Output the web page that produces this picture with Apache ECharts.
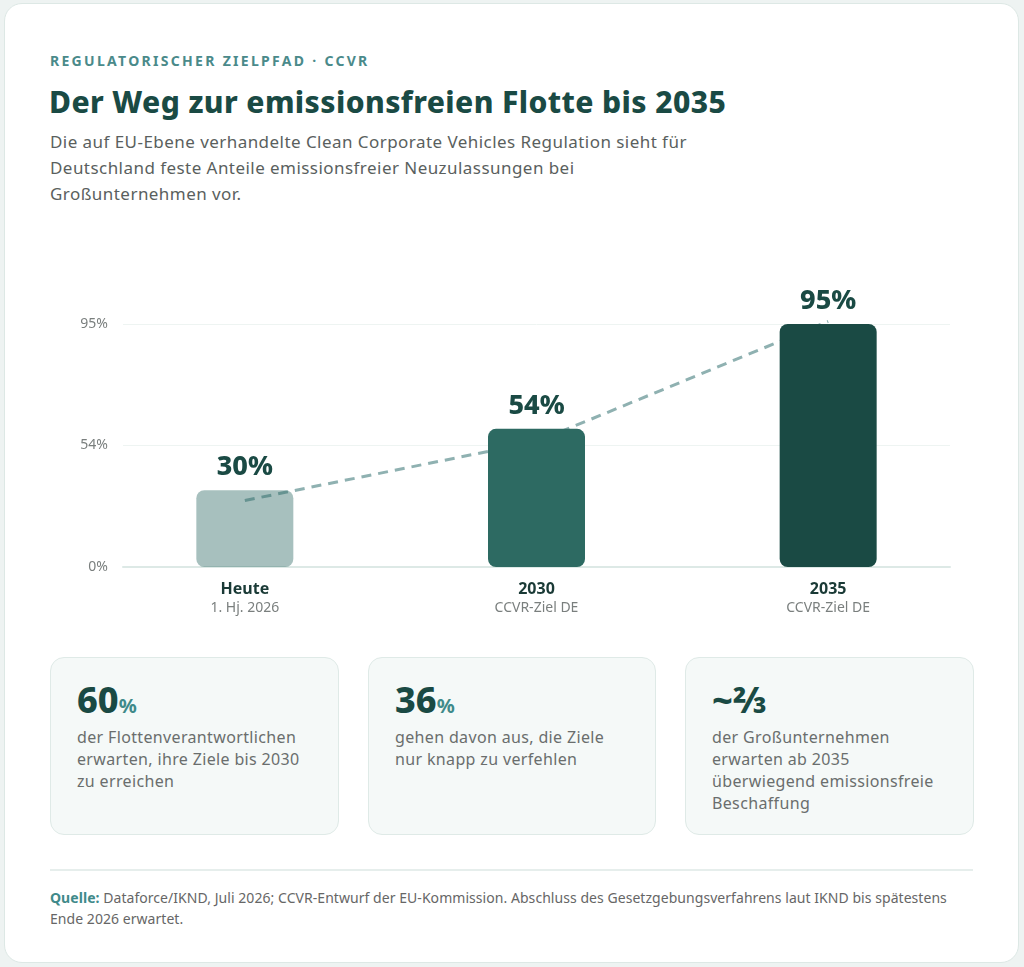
<!DOCTYPE html>
<html lang="de">
<head>
<meta charset="utf-8">
<title>Der Weg zur emissionsfreien Flotte bis 2035</title>
<script src="https://cdn.jsdelivr.net/npm/echarts@6/dist/echarts.min.js"></script>
<style>
  html, body { margin: 0; padding: 0; }
  body {
    width: 1024px; height: 967px; background: #eef3f2;
    font-family: "Noto Sans", "Open Sans", sans-serif; position: relative; overflow: hidden;
  }
  .card {
    position: absolute; left: 4px; top: 3px; width: 1013px; height: 958px;
    background: #fff; border: 1px solid #dde8e5; border-radius: 18px;
  }
  .kicker {
    position: absolute; left: 50px; top: 51px; font-size: 14px; font-weight: 700;
    letter-spacing: 2.3px; color: #4a8a8a;
  }
  .title {
    position: absolute; left: 49px; top: 81px; font-size: 30px; font-weight: 800;
    color: #1a4a44; letter-spacing: 0.4px;
  }
  .sub {
    position: absolute; left: 50px; top: 129px; font-size: 17px; line-height: 26px; color: #5a5f5e;
    letter-spacing: 0.45px;
  }
  #chart { position: absolute; left: 0; top: 270px; width: 1024px; height: 360px; }
  .stat {
    position: absolute; top: 657px; height: 178px; background: #f5f9f8;
    border: 1px solid #dfeae7; border-radius: 14px; box-sizing: border-box; padding: 20px 26px;
  }
  .stat .num { font-size: 36px; font-weight: 800; color: #1a4a44; line-height: 44px; height: 44px; }
  .stat .num small { font-size: 20px; color: #3f8a8a; font-weight: 700; }
  .stat .txt { margin-top: 4px; font-size: 16px; line-height: 22px; color: #6a6e6d; letter-spacing: 0.35px; }
  .rule { position: absolute; left: 50px; top: 869px; width: 923px; height: 2px; background: #e6eeec; }
  .note { position: absolute; left: 50px; top: 887px; font-size: 14px; line-height: 21px; color: #666; letter-spacing: 0.05px; }
  .note b { color: #3f8a8a; }
</style>
</head>
<body>
<div class="card"></div>
<div class="kicker">REGULATORISCHER ZIELPFAD · CCVR</div>
<div class="title">Der Weg zur emissionsfreien Flotte bis 2035</div>
<div class="sub">Die auf EU-Ebene verhandelte Clean Corporate Vehicles Regulation sieht für<br>Deutschland feste Anteile emissionsfreier Neuzulassungen bei<br>Großunternehmen vor.</div>
<div id="chart"></div>
<div class="stat" style="left:50px;width:289px;">
  <div class="num">60<small>%</small></div>
  <div class="txt">der Flottenverantwortlichen<br>erwarten, ihre Ziele bis 2030<br>zu erreichen</div>
</div>
<div class="stat" style="left:368px;width:288px;">
  <div class="num">36<small>%</small></div>
  <div class="txt">gehen davon aus, die Ziele<br>nur knapp zu verfehlen</div>
</div>
<div class="stat" style="left:685px;width:289px;">
  <div class="num">~⅔</div>
  <div class="txt">der Großunternehmen<br>erwarten ab 2035<br>überwiegend emissionsfreie<br>Beschaffung</div>
</div>
<div class="rule"></div>
<div class="note"><b>Quelle:</b> Dataforce/IKND, Juli 2026; CCVR-Entwurf der EU-Kommission. Abschluss des Gesetzgebungsverfahrens laut IKND bis spätestens<br>Ende 2026 erwartet.</div>

<script>
// Daten
var categories = ['Heute', '2030', '2035'];
var subLabels = ['1. Hj. 2026', 'CCVR-Ziel DE', 'CCVR-Ziel DE'];
var shareValues = [30, 54, 95];
// gestrichelte Pfadlinie
var trendValues = [26, 49, 96];
// Gitterlinien und ihre Beschriftungen
var yTickValues = [0, 47.5, 95];
var yTickLabels = ['0%', '54%', '95%'];

var barColors = ['rgba(45,106,99,0.42)', '#2d6a62', '#1a4a44'];

var chart = echarts.init(document.getElementById('chart'));

chart.setOption({
  animation: false,
  textStyle: { fontFamily: '"Noto Sans", sans-serif' },
  grid: [
    { left: 99, right: 50, top: 54, bottom: 63 },
    { left: 123, right: 74, top: 54, bottom: 63 }
  ],
  xAxis: [
    {
      type: 'category', gridIndex: 0, data: categories,
      axisLine: { show: false }, axisTick: { show: false },
      axisLabel: {
        margin: 12,
        formatter: function (val, i) { return '{a|' + val + '}\n{b|' + subLabels[i] + '}'; },
        rich: {
          a: { fontSize: 16, fontWeight: 700, color: '#1a3a36', lineHeight: 20 },
          b: { fontSize: 14, color: '#7a7f7e', lineHeight: 18 }
        }
      }
    },
    {
      type: 'category', gridIndex: 1, data: categories,
      axisLine: { show: true, lineStyle: { color: '#dde9e6', width: 2 } },
      axisTick: { show: false }, axisLabel: { show: false }
    }
  ],
  yAxis: [
    { type: 'value', gridIndex: 0, min: 0, max: 95, show: false },
    {
      type: 'value', gridIndex: 1, min: 0, max: 95, interval: 47.5,
      axisLine: { show: false }, axisTick: { show: false },
      axisLabel: {
        margin: 15, fontSize: 14, color: '#7a7f7e',
        formatter: function (v) {
          var k = yTickValues.indexOf(v);
          return k >= 0 ? yTickLabels[k] : '';
        }
      },
      splitLine: { lineStyle: { color: '#eef4f2', width: 1 } }
    }
  ],
  series: [
    {
      type: 'line', xAxisIndex: 0, yAxisIndex: 0, data: trendValues,
      z: 1, clip: false, symbol: 'none',
      lineStyle: { color: '#8fb1b1', width: 3, type: [10, 7] }
    },
    {
      type: 'bar', xAxisIndex: 0, yAxisIndex: 0, z: 3, barWidth: 97,
      data: shareValues.map(function (v, i) {
        return { value: v, itemStyle: { color: barColors[i] } };
      }),
      itemStyle: { borderRadius: 8 },
      label: {
        show: true, position: 'top', distance: 9,
        formatter: '{c}%', fontSize: 27, fontWeight: 800, color: '#1a4a44'
      }
    }
  ]
});
</script>
</body>
</html>
